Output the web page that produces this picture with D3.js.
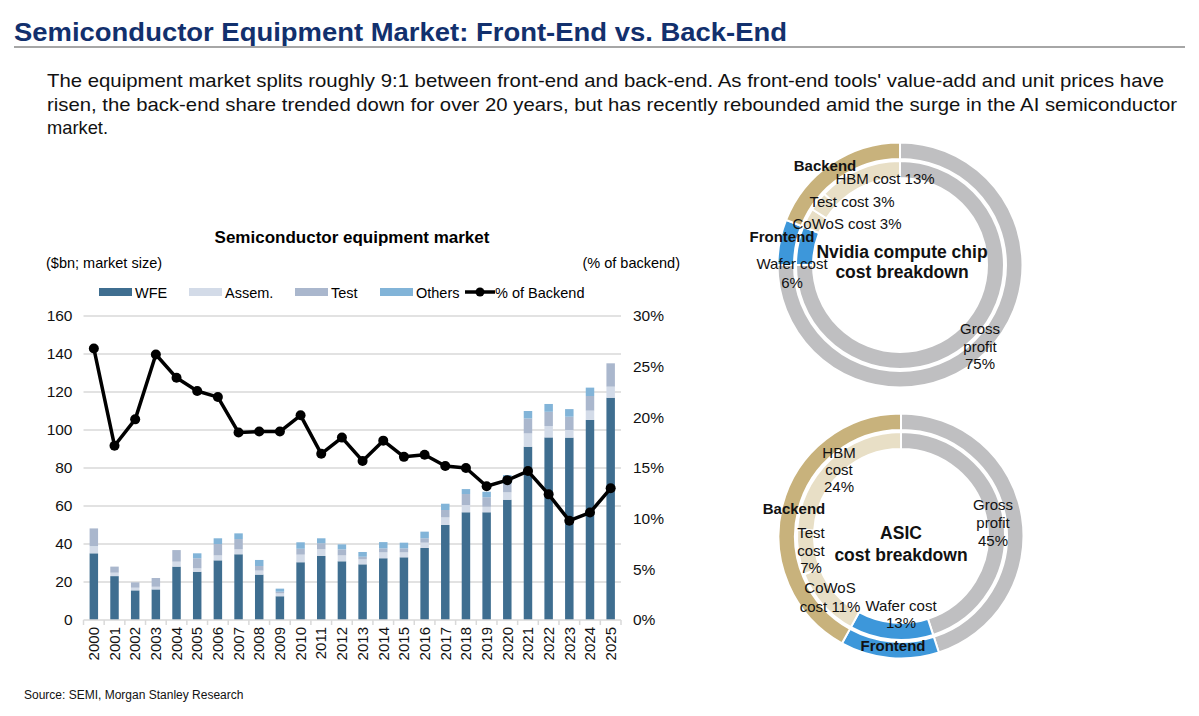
<!DOCTYPE html>
<html>
<head>
<meta charset="utf-8">
<script src="https://cdn.jsdelivr.net/npm/d3@7"></script>
<style>
  body { margin: 0; background: #fff; }
  svg { display: block; font-family: "Liberation Sans", Arial, sans-serif; }
  .narrow { font-family: "Liberation Sans Narrow", "Arial Narrow", "Liberation Sans", Arial, sans-serif; }
</style>
</head>
<body>
<svg id="chart" width="1199" height="716"></svg>
<script>
  // ---- données ----
  var years = ["2000","2001","2002","2003","2004","2005","2006","2007","2008","2009",
               "2010","2011","2012","2013","2014","2015","2016","2017","2018","2019",
               "2020","2021","2022","2023","2024","2025"];
  var wfe    = [35.1,23.1,15.6,16.1,28.1,25.4,31.4,34.6,23.9,12.5,30.4,33.7,30.9,29.3,32.5,33.0,37.9,50.0,56.7,56.7,63.3,91.2,96.1,96.0,105.3,117.0];
  var assem  = [3.8,1.8,1.4,1.4,2.6,1.8,2.6,2.6,2.1,1.5,4.0,3.5,3.1,2.6,3.1,2.6,2.8,4.0,3.8,2.9,3.9,7.0,6.0,4.0,4.9,5.8];
  var test   = [9.3,3.2,2.8,4.6,6.1,5.3,6.0,5.4,2.4,0.9,3.1,3.2,3.2,1.4,2.1,2.1,2.3,3.9,5.8,5.0,4.4,7.9,7.5,7.0,7.7,12.3];
  var others = [0,0,0,0,0,2.6,3.0,3.0,3.2,1.6,3.4,2.6,2.6,2.5,3.3,3.0,3.5,3.3,2.6,2.9,4.7,3.9,4.1,4.0,4.4,0];
  var backendPct = [26.8,17.2,19.8,26.2,23.9,22.6,22.0,18.5,18.6,18.6,20.2,16.4,18.0,15.7,17.7,16.1,16.3,15.2,15.0,13.2,13.8,14.7,12.4,9.8,10.6,13.0];

  var leftTicks  = [0,20,40,60,80,100,120,140,160];
  var rightTicks = [0,5,10,15,20,25,30];

  var seriesNames = ["WFE","Assem.","Test","Others"];
  var seriesColors = ["#3f6e90","#d3dbe8","#aab7cd","#82b4d8"];

  // donuts : anneau intérieur (détail) et extérieur (regroupement)
  var nvidiaInnerLabels = ["Gross profit","Wafer cost","CoWoS cost","Test cost","HBM cost"];
  var nvidiaInnerValues = [75,6,3,3,13];
  var nvidiaOuterLabels = ["Gross profit","Frontend","Backend"];
  var nvidiaOuterValues = [75,6,19];

  var asicInnerLabels = ["Gross profit","Wafer cost","CoWoS cost","Test cost","HBM cost"];
  var asicInnerValues = [45,13,11,7,24];
  var asicOuterLabels = ["Gross profit","Frontend","Backend"];
  var asicOuterValues = [45,13,42];

  // ---- configuration ----
  var svg = d3.select("#chart");
  svg.append("rect").attr("width",1199).attr("height",716).attr("fill","#fff");

  var plot = { left: 83.5, right: 621, top: 316, bottom: 620 };
  var gridColor = "#d9d9d9";

  // ---- en-tête ----
  function fitText(sel, w) {
    sel.attr("textLength", w).attr("lengthAdjust", "spacingAndGlyphs");
  }
  svg.append("text").attr("class", "narrow")
    .attr("x", 14).attr("y", 41)
    .attr("font-size", 26).attr("font-weight", "bold")
    .attr("fill", "#12306d")
    .text("Semiconductor Equipment Market: Front-End vs. Back-End")
    .call(fitText, 773);
  svg.append("line")
    .attr("x1", 14).attr("x2", 1185).attr("y1", 47).attr("y2", 47)
    .attr("stroke", "#a6a6a6").attr("stroke-width", 2);

  var intro = [
    ["The equipment market splits roughly 9:1 between front-end and back-end. As front-end tools' value-add and unit prices have", 1117],
    ["risen, the back-end share trended down for over 20 years, but has recently rebounded amid the surge in the AI semiconductor", 1130],
    ["market.", 61]
  ];
  intro.forEach(function(l, i) {
    svg.append("text").attr("class", "narrow")
      .attr("x", 47).attr("y", 87 + i * 23.5)
      .attr("font-size", 19).attr("fill", "#111")
      .text(l[0])
      .call(fitText, l[1]);
  });

  // ---- graphique à barres ----
  var x = d3.scaleBand().domain(years).range([plot.left, plot.right])
    .paddingInner(0.59).paddingOuter(0.295);
  var yL = d3.scaleLinear().domain([0,160]).range([plot.bottom, plot.top]);
  var yR = d3.scaleLinear().domain([0,30]).range([plot.bottom, plot.top]);

  var g = svg.append("g");

  g.append("text").attr("x", 352).attr("y", 243)
    .attr("text-anchor", "middle").attr("font-size", 17).attr("font-weight", "bold")
    .text("Semiconductor equipment market");
  g.append("text").attr("x", 46).attr("y", 268).attr("font-size", 14.5)
    .text("($bn; market size)");
  g.append("text").attr("x", 680).attr("y", 268).attr("font-size", 14.5)
    .attr("text-anchor", "end").text("(% of backend)");

  // grille
  g.append("g").selectAll("line").data(leftTicks.filter(function(d){ return d > 0; }))
    .join("line")
    .attr("x1", plot.left).attr("x2", plot.right)
    .attr("y1", function(d){ return yL(d); }).attr("y2", function(d){ return yL(d); })
    .attr("stroke", gridColor).attr("stroke-width", 1.5);

  // axes
  var axL = g.append("g").attr("transform", "translate(" + (plot.left - 11) + ",0)")
    .call(d3.axisLeft(yL).tickValues(leftTicks).tickSize(0).tickPadding(0));
  axL.select(".domain").remove();
  axL.selectAll("text").attr("font-size", 15.5).attr("fill", "#111")
    .attr("font-family", "Liberation Sans, Arial, sans-serif");

  var axR = g.append("g").attr("transform", "translate(" + (plot.right + 12) + ",0)")
    .call(d3.axisRight(yR).tickValues(rightTicks).tickSize(0).tickPadding(0)
      .tickFormat(function(d){ return d + "%"; }));
  axR.select(".domain").remove();
  axR.selectAll("text").attr("font-size", 15.5).attr("fill", "#111")
    .attr("font-family", "Liberation Sans, Arial, sans-serif");

  // barres empilées
  var rows = years.map(function(y, i) {
    return { year: y, wfe: wfe[i], assem: assem[i], test: test[i], others: others[i] };
  });
  var stack = d3.stack().keys(["wfe","assem","test","others"])(rows);

  g.append("g").selectAll("g").data(stack).join("g")
    .attr("fill", function(d, i){ return seriesColors[i]; })
    .selectAll("rect").data(function(d){ return d; }).join("rect")
    .attr("x", function(d){ return x(d.data.year); })
    .attr("width", x.bandwidth())
    .attr("y", function(d){ return yL(d[1]); })
    .attr("height", function(d){ return yL(d[0]) - yL(d[1]); });

  // axe des x
  g.append("line").attr("x1", plot.left).attr("x2", plot.right)
    .attr("y1", plot.bottom).attr("y2", plot.bottom)
    .attr("stroke", gridColor).attr("stroke-width", 1.5);
  g.append("g").selectAll("line").data(d3.range(years.length + 1)).join("line")
    .attr("x1", function(i){ return plot.left + i * x.step(); })
    .attr("x2", function(i){ return plot.left + i * x.step(); })
    .attr("y1", plot.bottom).attr("y2", plot.bottom + 5)
    .attr("stroke", gridColor).attr("stroke-width", 1.5);
  g.append("g").selectAll("text").data(years).join("text")
    .attr("transform", function(d){
      return "translate(" + (x(d) + x.bandwidth() / 2) + "," + (plot.bottom + 7) + ") rotate(-90)";
    })
    .attr("text-anchor", "end").attr("dy", "0.35em")
    .attr("font-size", 15).attr("fill", "#111")
    .text(function(d){ return d; });

  // courbe % backend
  var line = d3.line()
    .x(function(d, i){ return x(years[i]) + x.bandwidth() / 2; })
    .y(function(d){ return yR(d); });
  g.append("path").datum(backendPct)
    .attr("d", line).attr("fill", "none")
    .attr("stroke", "#000").attr("stroke-width", 3.5).attr("stroke-linejoin", "round");
  g.append("g").selectAll("circle").data(backendPct).join("circle")
    .attr("cx", function(d, i){ return x(years[i]) + x.bandwidth() / 2; })
    .attr("cy", function(d){ return yR(d); })
    .attr("r", 5).attr("fill", "#000");

  // légende
  var legendX = [99, 189, 295, 380];
  var legend = g.append("g");
  seriesNames.forEach(function(n, i) {
    legend.append("rect").attr("x", legendX[i]).attr("y", 288)
      .attr("width", 33).attr("height", 8).attr("fill", seriesColors[i]);
    legend.append("text").attr("x", legendX[i] + 36).attr("y", 297.5)
      .attr("font-size", 14.5).text(n);
  });
  legend.append("line").attr("x1", 465).attr("x2", 495).attr("y1", 292).attr("y2", 292)
    .attr("stroke", "#000").attr("stroke-width", 3.5);
  legend.append("circle").attr("cx", 480).attr("cy", 292).attr("r", 4.5).attr("fill", "#000");
  legend.append("text").attr("x", 495).attr("y", 297.5).attr("font-size", 14.5).text("% of Backend");

  // source
  svg.append("text").attr("x", 24).attr("y", 699).attr("font-size", 12).attr("fill", "#111")
    .text("Source: SEMI, Morgan Stanley Research");

  // ---- donuts ----
  var colGray = "#bfbfc1", colBlue = "#3d97da", colTan = "#c8b27c", colLight = "#e8dfc6";
  var innerColors = [colGray, colBlue, colLight, colLight, colLight];
  var outerColors = [colGray, colBlue, colTan];

  var pie = d3.pie().sort(null).value(function(d){ return d; });
  var arcOuter = d3.arc().innerRadius(106).outerRadius(122.5);
  var arcInner = d3.arc().innerRadius(87).outerRadius(104);

  function donut(cx, cy, innerVals, outerVals, labels) {
    var dg = svg.append("g").attr("transform", "translate(" + cx + "," + cy + ")");
    dg.append("g").selectAll("path").data(pie(outerVals)).join("path")
      .attr("d", arcOuter).attr("fill", function(d, i){ return outerColors[i]; })
      .attr("stroke", "#fff").attr("stroke-width", 2);
    dg.append("g").selectAll("path").data(pie(innerVals)).join("path")
      .attr("d", arcInner).attr("fill", function(d, i){ return innerColors[i]; })
      .attr("stroke", "#fff").attr("stroke-width", 2);
    labels.forEach(function(l) {
      var t = dg.append("text").attr("text-anchor", "middle")
        .attr("font-size", l.size || 15)
        .attr("font-weight", l.bold ? "bold" : "normal")
        .attr("fill", "#111");
      l.lines.forEach(function(s, k) {
        t.append("tspan").attr("x", l.dx).attr("y", l.dy + k * l.lh).attr("dy", "0.35em").text(s);
      });
    });
  }

  donut(900, 265, nvidiaInnerValues, nvidiaOuterValues, [
    { lines: ["Backend"], dx: -75, dy: -99, bold: true, lh: 0 },
    { lines: ["HBM cost 13%"], dx: -15, dy: -86, lh: 0 },
    { lines: ["Test cost 3%"], dx: -48, dy: -63, lh: 0 },
    { lines: ["CoWoS cost 3%"], dx: -53, dy: -41, lh: 0 },
    { lines: ["Frontend"], dx: -118, dy: -28, bold: true, lh: 0 },
    { lines: ["Nvidia compute chip", "cost breakdown"], dx: 2, dy: -13, bold: true, size: 17.5, lh: 20 },
    { lines: ["Wafer cost", "6%"], dx: -108, dy: -1, lh: 19 },
    { lines: ["Gross", "profit", "75%"], dx: 80, dy: 64, lh: 17.5 }
  ]);

  donut(901, 536, asicInnerValues, asicOuterValues, [
    { lines: ["HBM", "cost", "24%"], dx: -62, dy: -83, lh: 17 },
    { lines: ["Backend"], dx: -107, dy: -27, bold: true, lh: 0 },
    { lines: ["Test", "cost", "7%"], dx: -90, dy: -3, lh: 17.5 },
    { lines: ["CoWoS", "cost 11%"], dx: -71, dy: 52, lh: 19 },
    { lines: ["Wafer cost", "13%"], dx: 0, dy: 70, lh: 17 },
    { lines: ["Frontend"], dx: -8, dy: 110, bold: true, lh: 0 },
    { lines: ["Gross", "profit", "45%"], dx: 92, dy: -31, lh: 18 },
    { lines: ["ASIC", "cost breakdown"], dx: 0, dy: -3, bold: true, size: 17.5, lh: 22 }
  ]);
</script>
</body>
</html>
